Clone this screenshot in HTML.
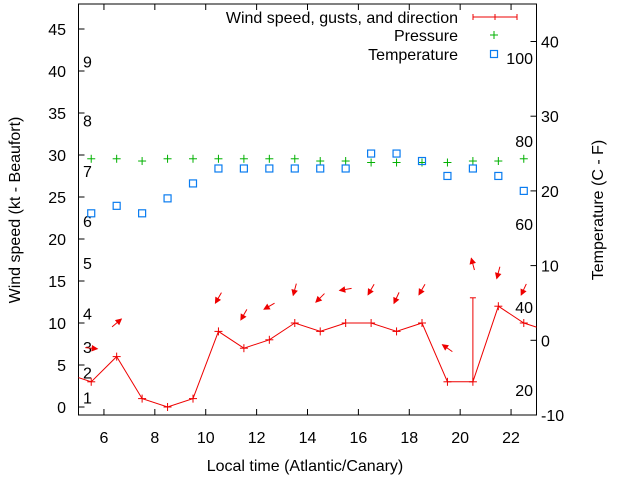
<!DOCTYPE html>
<html><head><meta charset="utf-8"><style>
body{margin:0;background:#fff}
svg text{font-family:"Liberation Sans",sans-serif;font-size:16px;fill:#000}
</style></head><body>
<svg id="c" width="640" height="480" xmlns="http://www.w3.org/2000/svg"></svg>
<script>
const hours=[5.5,6.5,7.5,8.5,9.5,10.5,11.5,12.5,13.5,14.5,15.5,16.5,17.5,18.5,19.5,20.5,21.5,22.5];
const windKt=[3,6,1,0,1,9,7,8,10,9,10,10,9,10,3,3,12,10];
const gustKt=[3,6,1,0,1,9,7,8,10,9,10,10,9,10,3,13,12,10];
const windDirAll=[275,230,null,null,null,30,30,60,15,45,80,30,25,30,125,165,15,25];
const pressure=[24.3,24.3,24.0,24.3,24.3,24.3,24.3,24.3,24.3,24.0,24.0,23.8,23.8,23.8,23.8,24.0,24.0,24.3];
const tempC=[17,18,17,19,21,23,23,23,23,23,23,25,25,24,22,23,22,20];
const xTicks=[6,8,10,12,14,16,18,20,22];
const yTicks=[0,5,10,15,20,25,30,35,40,45];
const y2Ticks=[-10,0,10,20,30,40];
const beaufortKt=[1,4,7,11,17,22,28,34,41];
const fahrTicks=[20,40,60,80,100];
const windEdgeStart=3.5, windEdgeEnd=9.5;

const L=78.5,R=536.5,T=4,B=415;
const X=h=>L+(h-5)/(23-5)*(R-L);
const Y=v=>407-v*8.4;
const Y2=c=>415-(c+10)*7.47;
const svg=document.getElementById('c');
const NS='http://www.w3.org/2000/svg';
function mk(tag,attrs,parent){const e=document.createElementNS(NS,tag);for(const k in attrs)e.setAttribute(k,attrs[k]);(parent||svg).appendChild(e);return e;}
function txt(x,y,s,anchor,parent){const t=mk('text',{x:x,y:y,'text-anchor':anchor||'start'},parent);t.textContent=s;return t;}

let frame=mk('rect',{x:L,y:T,width:R-L,height:B-T,fill:'none',stroke:'#000','stroke-width':1});



const xg=mk('g',{});


xTicks.forEach(h=>{const x=X(h);
 mk('line',{x1:x,y1:B,x2:x,y2:B-6,stroke:'#000'},xg);
 mk('line',{x1:x,y1:T,x2:x,y2:T+6,stroke:'#000'},xg);
 const t=txt(x,443,String(h),'middle',xg);
 
 
});
const yg=mk('g',{});


yTicks.forEach(v=>{const y=Y(v);
 mk('line',{x1:L,y1:y,x2:L+6,y2:y,stroke:'#000'},yg);
 const t=txt(66,y+6,String(v),'end',yg);
 
 
});
const y2g=mk('g',{});


y2Ticks.forEach(v=>{const y=Y2(v);
 mk('line',{x1:R,y1:y,x2:R-6,y2:y,stroke:'#000'},y2g);
 const t=txt(541,y+6,String(v),'start',y2g);
 
 
});
beaufortKt.forEach((k,i)=>{
 const t=txt(83,Y(k)+5,String(i+1),'start');
 
 
});
fahrTicks.forEach(f=>{
 const c=(f-32)*5/9;
 const t=txt(533,Y2(c)+6,String(f),'end');
 
 
});

let t=txt(305,471,'Local time (Atlantic/Canary)','middle');


t=txt(0,0,'Wind speed (kt - Beaufort)','middle');
t.setAttribute('transform','translate(20,210) rotate(-90)');


t=txt(0,0,'Temperature (C - F)','middle');
t.setAttribute('transform','translate(603,210) rotate(-90)');



const clip=mk('clipPath',{id:'pc'});mk('rect',{x:L,y:T,width:R-L,height:B-T},clip);
let pts=[[L,Y(windEdgeStart)]].concat(hours.map((h,i)=>[X(h),Y(windKt[i])])).concat([[R,Y(windEdgeEnd)]]);
let wl=mk('polyline',{points:pts.map(p=>p.join(',')).join(' '),fill:'none',stroke:'#e00','stroke-width':1,'clip-path':'url(#pc)'});


hours.forEach((h,i)=>{const x=X(h),y=Y(windKt[i]);
 const g=mk('g',{stroke:'#e00','stroke-width':1});
 
 
 mk('line',{x1:x-4,y1:y,x2:x+4,y2:y},g);mk('line',{x1:x,y1:y-4,x2:x,y2:y+4},g);
 if(gustKt[i]>windKt[i]){const gy=Y(gustKt[i]);
  mk('line',{x1:x,y1:y,x2:x,y2:gy},g);mk('line',{x1:x-3,y1:gy,x2:x+3,y2:gy},g);}
 const d=windDirAll[i];
 if(d!==null){
  const cy=Y(Math.max(windKt[i],gustKt[i])+4);
  const th=d*Math.PI/180,dx=-Math.sin(th),dy=Math.cos(th),len=12;
  const x1=x-dx*len/2,y1=cy-dy*len/2,x2=x+dx*len/2,y2=cy+dy*len/2;
  const a=mk('g',{stroke:'#e00',fill:'#e00'});
  
  
  mk('line',{x1:x1,y1:y1,x2:x2,y2:y2},a);
  const px=-dy,py=dx;
  mk('polygon',{points:`${x2},${y2} ${x2-dx*5+px*2.5},${y2-dy*5+py*2.5} ${x2-dx*5-px*2.5},${y2-dy*5-py*2.5}`},a);
 }
});
hours.forEach((h,i)=>{const x=X(h),y=Y2(pressure[i]);
 const g=mk('g',{stroke:'#00b000','stroke-width':1});
 
 
 mk('line',{x1:x-4,y1:y,x2:x+4,y2:y},g);mk('line',{x1:x,y1:y-4,x2:x,y2:y+4},g);
});
hours.forEach((h,i)=>{const x=X(h),y=Y2(tempC[i]);
 const r=mk('rect',{x:x-3.5,y:y-3.5,width:7,height:7,fill:'none',stroke:'#0a7cf0','stroke-width':1.2});
 
 
});
const lg=mk('g',{});


[['Wind speed, gusts, and direction',17],['Pressure',35],['Temperature',54]].forEach(([s,y],i)=>{
 const e=txt(458,y+6,s,'end',lg);
 
 
 if(i===0){mk('line',{x1:473,y1:y,x2:517,y2:y,stroke:'#e00'},lg);
  [473,517].forEach(xx=>mk('line',{x1:xx,y1:y-3,x2:xx,y2:y+3,stroke:'#e00'},lg));
  mk('line',{x1:495,y1:y-3,x2:495,y2:y+3,stroke:'#e00'},lg);}
 if(i===1){mk('line',{x1:490,y1:y,x2:498,y2:y,stroke:'#00b000'},lg);mk('line',{x1:494,y1:y-4,x2:494,y2:y+4,stroke:'#00b000'},lg);}
 if(i===2){mk('rect',{x:490.5,y:y-3.5,width:7,height:7,fill:'none',stroke:'#0a7cf0','stroke-width':1.2},lg);}
});
</script>
</body></html>
